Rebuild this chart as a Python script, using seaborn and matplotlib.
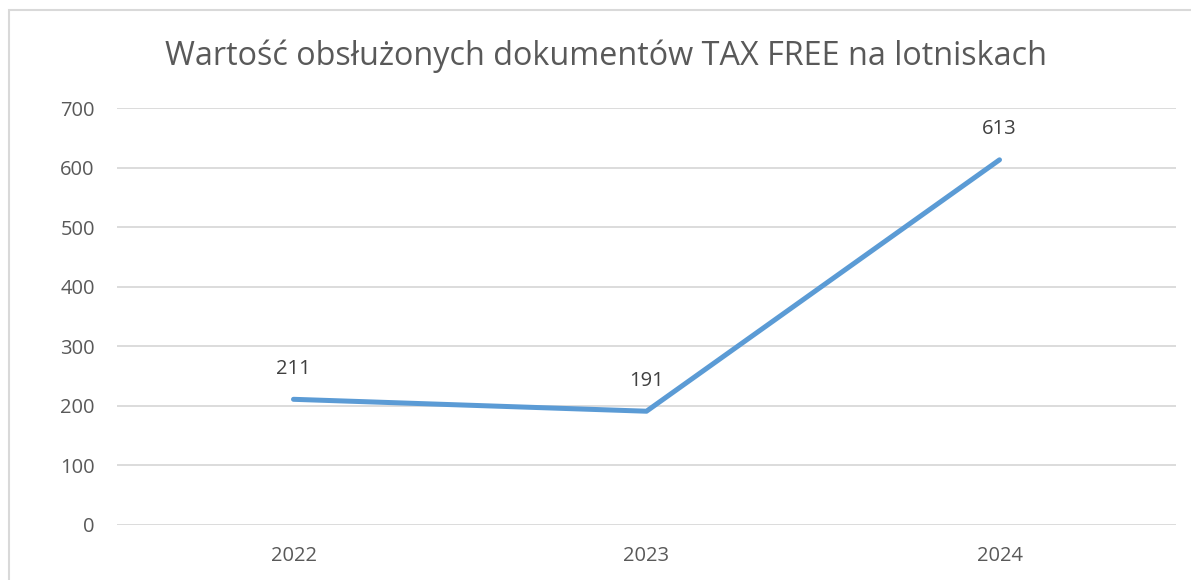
import matplotlib
matplotlib.use("Agg")
import matplotlib.pyplot as plt
import seaborn as sns
import pandas as pd
from matplotlib.patches import Rectangle

years = ["2022", "2023", "2024"]
values = [211, 191, 613]
title = "Wartość obsłużonych dokumentów TAX FREE na lotniskach"
yticks = [0, 100, 200, 300, 400, 500, 600, 700]

sns.set_theme(style="white")
plt.rcParams['font.family'] = ['Open Sans', 'DejaVu Sans']

df = pd.DataFrame({"year": years, "value": values})

W, H = 1191, 580
fig = plt.figure(figsize=(W / 100, H / 100), dpi=100)
fig.patch.set_facecolor("white")
ax = fig.add_axes([117 / W, 1 - 525 / H, (1176 - 117) / W, (525 - 108) / H])

# outer border of chart area
fig.patches.append(Rectangle((9 / W, -0.1), 1.2, 1 - 10 / H + 0.1, transform=fig.transFigure,
                             fill=False, edgecolor="#D9D9D9", linewidth=1.5))

sns.lineplot(data=df, x="year", y="value", ax=ax, color="#5B9BD5", linewidth=3.6,
             solid_capstyle="round")

ax.set_xlim(-0.5, len(years) - 0.5)
ax.set_ylim(0, 700)
ax.set_yticks(yticks)
ax.yaxis.grid(True, color="#D9D9D9", linewidth=1.3)
ax.set_axisbelow(True)
for s in ax.spines.values():
    s.set_visible(False)
ax.tick_params(axis="both", length=0, labelsize=14.5, colors="#595959")
ax.tick_params(axis="x", pad=15)
ax.tick_params(axis="y", pad=16)
ax.set_xlabel("")
ax.set_ylabel("")

for i, v in enumerate(values):
    ax.annotate(str(v), (i, v), xytext=(0, 22), textcoords="offset points",
                ha="center", va="center", fontsize=14.5, color="#404040")

fig.text(606 / W, 1 - 56 / H, title, ha="center", va="center", fontsize=23.3, color="#595959")

fig.savefig("out.png", dpi=100, facecolor="white")
